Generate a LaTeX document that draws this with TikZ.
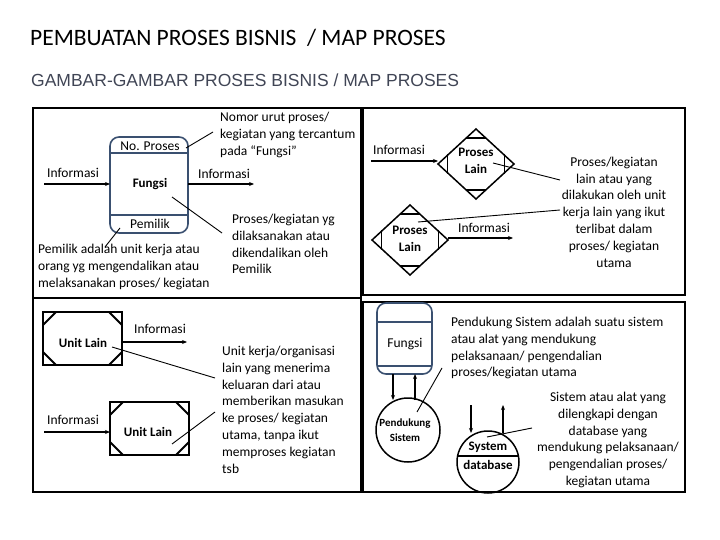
\documentclass[tikz,border=0pt]{standalone}
\usepackage{fontspec}
\setmainfont{Carlito}
\newfontfamily\arialf{Liberation Sans}
\usetikzlibrary{arrows.meta}
\begin{document}
\begin{tikzpicture}[x=1pt,y=-1pt,
  txt/.style={font=\fontsize{13.5}{16.8}\selectfont,inner sep=0pt},
  lbl/.style={font=\fontsize{13.5}{16}\selectfont,inner sep=0pt},
  blbl/.style={inner sep=0pt,font=\bfseries\fontsize{13}{17}\selectfont},
  arr/.style={line width=1.2pt,-{Stealth[length=5pt,width=4pt]}},
  thin/.style={line width=0.9pt},
  frame/.style={line width=1.3pt},
  fbox/.style={draw=fcol,line width=1.6pt,rounded corners=9pt},
  bar/.style={line width=1.8pt}]
\definecolor{fcol}{HTML}{3A5070}
\definecolor{subc}{HTML}{404555}
\useasboundingbox (0,0) rectangle (720,540);
% titles
\node[anchor=west,inner sep=0pt,font=\fontsize{23.5}{26}\selectfont] (title) at (30,38) {PEMBUATAN PROSES BISNIS\ \ / MAP PROSES};
\node[anchor=west,inner sep=0pt,font=\arialf\fontsize{17.5}{20}\selectfont,text=subc] (sub) at (31,80) {GAMBAR-GAMBAR PROSES BISNIS / MAP PROSES};
% frames
\draw[frame] (33,108) rectangle (361,298);
\draw[frame] (33,298) rectangle (361,492);
\draw[frame] (363,108) rectangle (685,295);
\draw[frame] (363,302) rectangle (685,492);
% ---- panel 1: Fungsi
\draw[fbox] (110,137) rectangle (188,233);
\draw[fcol,line width=1.6pt] (110,153) -- (188,153) (110,215) -- (188,215);
\node[lbl] (nop) at (150,146) {No. Proses};
\node[blbl] (fun) at (150,184) {Fungsi};
\node[lbl] (pem) at (150,224) {Pemilik};
\coordinate (fl) at (110,184); \coordinate (fr) at (188,184);
\coordinate (i1s) at (44,184); \coordinate (o1e) at (254,184);
\draw[arr] (i1s) -- (fl);
\draw[arr] (fr) -- (o1e);
\node[lbl] (inf1) at (73,173) {Informasi};
\node[lbl] (inf2) at (224,174) {Informasi};
\node[txt,anchor=north west,align=left] (nomor) at (220,112) {Nomor urut proses/\\kegiatan yang tercantum\\pada “Fungsi”};
\draw[thin] (186,148) -- (213,132);
\node[txt,anchor=north west,align=left] (pk) at (232,214) {Proses/kegiatan yg\\dilaksanakan atau\\dikendalikan oleh\\Pemilik};
\draw[thin] (172,197) -- (222,233);
\node[txt,anchor=north west,align=left] (pm) at (38,244) {Pemilik adalah unit kerja atau\\orang yg mengendalikan atau\\melaksanakan proses/ kegiatan};
\draw[thin] (120,228) -- (105,247);
% ---- panel 2: Proses Lain
\foreach \n/\cx/\cy in {d1/476/164,d2/410/240}{
  \begin{scope}[shift={(\cx,\cy)}]
  \draw[line width=1.5pt] (0,-35) -- (38,0) -- (0,35) -- (-38,0) -- cycle;
  \draw[bar] (-9.8,-26) -- (9.8,-26) (-9.8,26) -- (9.8,26)
             (-28.5,-10.4) -- (-28.5,10.4) (28.5,-10.4) -- (28.5,10.4);
  \end{scope}}
\node[blbl,align=center] (pl1) at (476,161) {Proses\\Lain};
\node[blbl,align=center] (pl2) at (410,239) {Proses\\Lain};
\coordinate (d1l) at (438,161); \coordinate (i3s) at (371,161);
\coordinate (d2r) at (448,238); \coordinate (o3e) at (513,238);
\draw[arr] (i3s) -- (d1l);
\draw[arr] (d2r) -- (o3e);
\node[lbl] (inf3) at (399,150) {Informasi};
\node[lbl] (inf4) at (484,228) {Informasi};
\node[txt,align=center] (plt) at (614,212) {Proses/kegiatan\\lain atau yang\\dilakukan oleh unit\\kerja lain yang ikut\\terlibat dalam\\proses/ kegiatan\\utama};
\draw[thin] (493,163) -- (560,180);
\draw[thin] (418,222) -- (560,210);
% ---- panel 3: Unit Lain
\foreach \x/\y in {43/312,110/402}{
  \draw[line width=1.5pt] (\x,\y) rectangle ++(79,53);
  \draw[bar] (\x+13,\y) -- (\x,\y+13) (\x+66,\y) -- (\x+79,\y+13)
             (\x,\y+40) -- (\x+13,\y+53) (\x+79,\y+40) -- (\x+66,\y+53);}
\node[blbl] (u1) at (83,343) {Unit Lain};
\node[blbl] (u2) at (148,432) {Unit Lain};
\coordinate (u1r) at (122,342); \coordinate (o5e) at (187,342);
\coordinate (i6s) at (44,432); \coordinate (u2l) at (110,432);
\draw[arr] (u1r) -- (o5e);
\draw[arr] (i6s) -- (u2l);
\node[lbl] (inf5) at (160,329) {Informasi};
\node[lbl] (inf6) at (73,420) {Informasi};
\node[txt,anchor=north west,align=left] (ut) at (222,346) {Unit kerja/organisasi\\lain yang menerima\\keluaran dari atau\\memberikan masukan\\ke proses/ kegiatan\\utama, tanpa ikut\\memproses kegiatan\\tsb};
\draw[thin] (112,347) -- (215,378);
\draw[thin] (172,444) -- (215,412);
% ---- panel 4: Pendukung
\draw[fbox] (377,303) rectangle (432,374);
\draw[fcol,line width=1.6pt] (377,322) -- (432,322) (377,366) -- (432,366);
\node[lbl] (f2) at (405,344) {Fungsi};
\node[draw,circle,line width=1.5pt,minimum size=64pt,inner sep=0pt] (ps) at (408,430) {};
\node[align=center,inner sep=0pt,font=\bfseries\fontsize{11}{15}\selectfont] (pst) at (405,430) {Pendukung\\Sistem};
\draw[arr] (393,374) -- (393,400);
\draw[arr] (415,400) -- (415,374);
\draw[thin] (417,412) -- (442,368);
\node[txt,anchor=north west,align=left] (pdt) at (451,317) {Pendukung Sistem adalah suatu sistem\\atau alat yang mendukung\\pelaksanaan/ pengendalian\\proses/kegiatan utama};
\node[draw,circle,line width=1.5pt,minimum size=62pt,inner sep=0pt] (sd) at (488,462) {};
\draw[line width=1.5pt] (sd.west |- 0,456) ++(1.5,0) -- ([xshift=-1.5pt]sd.east |- 0,456);
\node[blbl] (sy) at (488,447) {System};
\node[blbl] (db) at (488,465) {database};
\draw[arr] (471,405) -- (471,433);
\draw[arr] (503,433) -- (503,405);
\draw[thin] (487,437) -- (532,428);
\node[txt,align=center] (sdt) at (608,440) {Sistem atau alat yang\\dilengkapi dengan\\database yang\\mendukung pelaksanaan/\\pengendalian proses/\\kegiatan utama};
\end{tikzpicture}
\end{document}
